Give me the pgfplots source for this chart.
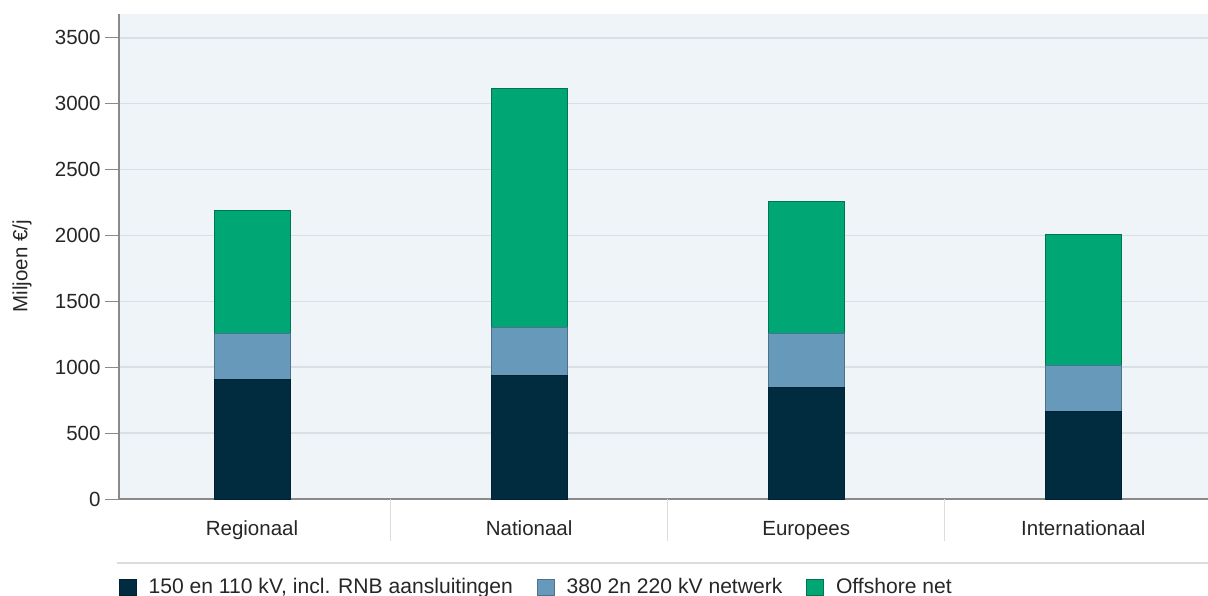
\documentclass[border=0pt]{standalone}
\usepackage{pgfplots}
\pgfplotsset{compat=1.18}
\usepackage{fontspec}
\setmainfont{Liberation Sans}
\definecolor{cdark}{HTML}{012B3F}
\definecolor{cblue}{HTML}{6699BA}
\definecolor{cgreen}{HTML}{00A775}
\definecolor{cbg}{HTML}{EFF4F8}
\definecolor{cgrid}{HTML}{D8DFE5}
\definecolor{caxis}{HTML}{8A8A8A}
\definecolor{csep}{HTML}{DCDCDC}
\begin{document}
\begin{tikzpicture}
\path[use as bounding box] (0,0) rectangle (1208bp,596bp);
\begin{axis}[
  name=ax,
  at={(119bp,97bp)}, anchor=south west,
  scale only axis, width=1089bp, height=485bp,
  font=\fontsize{20.5bp}{24bp}\selectfont,
  ybar stacked, bar width=76bp,
  xmin=-0.48, xmax=3.45, ymin=0, ymax=3680,
  xtick={0,1,2,3},
  xticklabels={Regionaal,Nationaal,Europees,Internationaal},
  ytick={0,500,...,3500},
  /pgf/number format/1000 sep={},
  /pgf/number format/assume math mode=true,
  axis x line*=bottom, axis y line*=left,
  axis line style={draw=caxis, line width=1.3bp, -},
  xtick style={draw=none},
  ytick style={draw=caxis, line width=1bp},
  tick align=outside, major tick length=14bp,
  yticklabel style={text=black!85, xshift=-1bp},
  xticklabel style={text=black!85, text height=15bp, text depth=4.5bp, yshift=-4bp},
  ymajorgrids, grid style={draw=cgrid, line width=1.6bp},
  axis background/.style={fill=cbg},
  ylabel={Miljoen €/j},
  ylabel style={at={(rel axis cs:-0.0891,0.48)}, anchor=center, text=black!85},
  clip=false,
  legend columns=3,
  legend cell align=left,
  legend style={at={(rel axis cs:0,-0.1814)}, anchor=west, draw=none, fill=none,
    inner sep=0pt, outer sep=0pt, text=black!85,
    font=\fontsize{21.1bp}{24bp}\selectfont,
    /tikz/every odd column/.append style={column sep=12bp},
    /tikz/every even column/.append style={column sep=24bp},
    nodes={inner sep=0pt}},
  legend image code/.code={\draw[#1] (0bp,-8bp) rectangle (17bp,8bp);},
]
\addplot[fill=cdark, draw=cdark!80!black, line width=0.6bp] coordinates {(0,905) (1,935) (2,845) (3,665)};
\addplot[fill=cblue, draw=cblue!75!black, line width=0.6bp] coordinates {(0,350) (1,365) (2,410) (3,350)};
\addplot[fill=cgreen, draw=cgreen!70!black, line width=0.6bp] coordinates {(0,935) (1,1815) (2,1000) (3,995)};
\legend{{150 en 110 kV, incl. RNB aansluitingen},{380 2n 220 kV netwerk},{Offshore net}}
\end{axis}
\draw[csep, line width=0.8bp] (390bp,97bp) -- (390bp,55bp);
\draw[csep, line width=0.8bp] (667bp,97bp) -- (667bp,55bp);
\draw[csep, line width=0.8bp] (944bp,97bp) -- (944bp,55bp);
\draw[csep, line width=1.2bp] (117bp,33bp) -- (1208bp,33bp);
\end{tikzpicture}
\end{document}
